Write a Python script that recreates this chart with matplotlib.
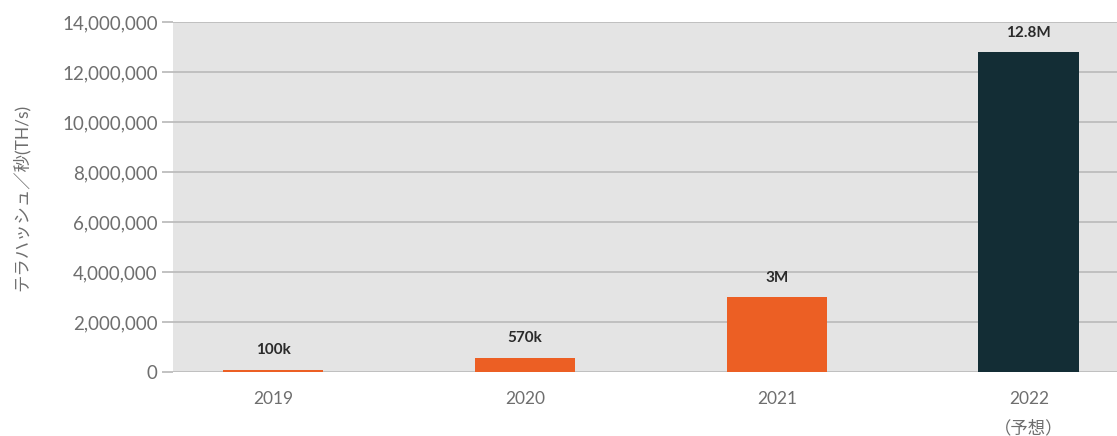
import matplotlib
matplotlib.use("Agg")
import matplotlib.pyplot as plt
from matplotlib.ticker import FuncFormatter

categories = ["2019", "2020", "2021", "2022\n（予想）"]
values = [100000, 570000, 3000000, 12800000]
value_labels = ["100k", "570k", "3M", "12.8M"]
colors = ["#EC5F24", "#EC5F24", "#EC5F24", "#132D35"]
y_ticks = [0, 2000000, 4000000, 6000000, 8000000, 10000000, 12000000, 14000000]
y_label = "テラハッシュ／秒(TH/s)"

plt.rcParams['font.family'] = ['Lato', 'Noto Sans CJK JP', 'DejaVu Sans']

fig = plt.figure(figsize=(11.17, 4.36), dpi=100)
ax = fig.add_axes([173/1117, 1-372/436, 1-173/1117, 350/436])
ax.set_facecolor("#E4E4E4")

x = list(range(len(categories)))
bars = ax.bar(x, values, width=0.4, color=colors, zorder=3)
for xi, v, lab in zip(x, values, value_labels):
    ax.annotate(lab, (xi, v), xytext=(0, 9), textcoords="offset points",
                ha="center", va="bottom", fontsize=11, fontweight="bold",
                color="#2A2A2A")

ax.set_xlim(-0.397, 3.35)
ax.set_ylim(0, 14000000)
ax.set_yticks(y_ticks)
ax.yaxis.set_major_formatter(FuncFormatter(lambda v, p: f"{int(v):,}"))
ax.set_xticks(x)
ax.set_xticklabels(categories, linespacing=1.9)
ax.grid(axis="y", color="#BDBDBD", linewidth=1.3, zorder=1)
ax.tick_params(axis="y", length=8, width=1.3, color="#BDBDBD", labelsize=13.5,
               labelcolor="#6E6E6E", pad=3)
ax.tick_params(axis="x", length=0, labelsize=12.5, labelcolor="#6E6E6E", pad=14)
for s in ax.spines.values():
    s.set_visible(False)
ax.set_ylabel(y_label, fontsize=12.5, color="#6E6E6E")
ax.yaxis.set_label_coords(-0.152, 0.5)

fig.savefig("out.png", dpi=100)
